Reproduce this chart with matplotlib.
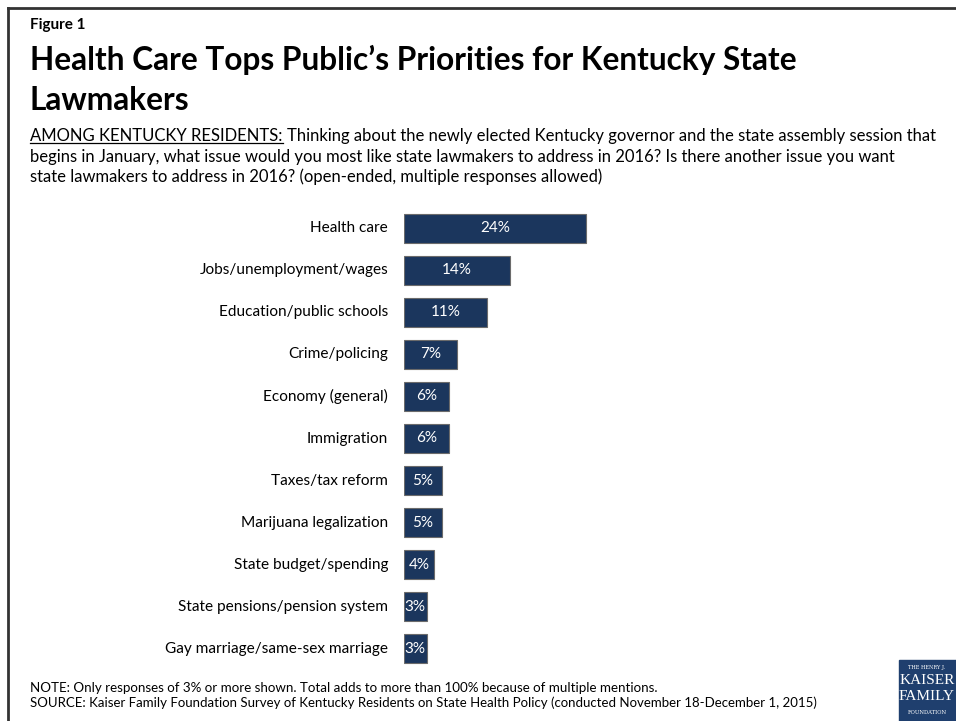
import matplotlib.pyplot as plt
from matplotlib.patches import Rectangle
from matplotlib.lines import Line2D

plt.rcParams['font.family'] = ['Lato', 'DejaVu Sans']

issues = ['Health care', 'Jobs/unemployment/wages', 'Education/public schools',
          'Crime/policing', 'Economy (general)', 'Immigration', 'Taxes/tax reform',
          'Marijuana legalization', 'State budget/spending',
          'State pensions/pension system', 'Gay marriage/same-sex marriage']
shares = [24, 14, 11, 7, 6, 6, 5, 5, 4, 3, 3]

W, H = 956, 721
fig = plt.figure(figsize=(W / 100, H / 100), dpi=100)

def px(x, y):
    return x / W, 1 - y / H

# frame (top and left only)
fig.add_artist(Line2D([8 / W, 1], [1 - 8 / H] * 2, color='#333333', lw=2))
fig.add_artist(Line2D([8 / W] * 2, [1 - 8 / H, 0], color='#333333', lw=2))

fig.text(*px(30, 25), 'Figure 1', fontsize=11, fontweight='bold', va='center')
fig.text(*px(30, 60), 'Health Care Tops Public\u2019s Priorities for Kentucky State',
         fontsize=22.8, fontweight='bold', va='center')
fig.text(*px(30, 101), 'Lawmakers', fontsize=22.8, fontweight='bold', va='center')

# subtitle with underlined lead-in
sub_size = 12
lead = fig.text(*px(30, 136), 'AMONG KENTUCKY RESIDENTS: ', fontsize=sub_size, va='center')
renderer = fig.canvas.get_renderer()
bb = lead.get_window_extent(renderer)
x_end = bb.x1 / W
fig.add_artist(Line2D([30 / W, (bb.x1 - 4) / W], [(bb.y0 + 1) / H] * 2, color='black', lw=0.9))
fig.text(x_end, 1 - 136 / H,
         'Thinking about the newly elected Kentucky governor and the state assembly session that',
         fontsize=sub_size, va='center')
fig.text(*px(30, 157), 'begins in January, what issue would you most like state lawmakers to address in 2016? Is there another issue you want',
         fontsize=sub_size, va='center')
fig.text(*px(30, 177), 'state lawmakers to address in 2016? (open-ended, multiple responses allowed)',
         fontsize=sub_size, va='center')

# bar chart
ax = fig.add_axes([404 / W, 1 - 670 / H, 227 / W, 463 / H])
ypos = list(range(len(issues)))
ax.barh(ypos, shares, height=0.69, color='#1b365d', edgecolor='#6b6b6b', linewidth=0.8)
ax.set_xlim(0, 30)
ax.set_ylim(len(issues) - 0.5, -0.5)
for y, v in zip(ypos, shares):
    ax.text(v / 2, y, f'{v}%', color='white', ha='center', va='center', fontsize=11)
for y, name in zip(ypos, issues):
    ax.text(-2.1, y, name, ha='right', va='center', fontsize=11.1)
ax.axis('off')

# notes
fig.text(*px(30, 688), 'NOTE: Only responses of 3% or more shown. Total adds to more than 100% because of multiple mentions.',
         fontsize=9.6, va='center')
fig.text(*px(30, 703), 'SOURCE: Kaiser Family Foundation Survey of Kentucky Residents on State Health Policy (conducted November 18-December 1, 2015)',
         fontsize=9.5, va='center')

# logo
fig.add_artist(Rectangle(px(899, 721), 57 / W, 61 / H, color='#1f3f6e'))
fig.text(*px(927, 667), 'THE HENRY J.', color='white', fontsize=3.6, ha='center', va='center', family='DejaVu Serif')
fig.text(*px(927, 681), 'KAISER', color='white', fontsize=11, ha='center', va='center', family='Liberation Serif')
fig.text(*px(927, 697), 'FAMILY', color='white', fontsize=11, ha='center', va='center', family='Liberation Serif')
fig.text(*px(927, 713), 'FOUNDATION', color='white', fontsize=3.8, ha='center', va='center', family='DejaVu Serif')

fig.savefig('out.png', dpi=100)
